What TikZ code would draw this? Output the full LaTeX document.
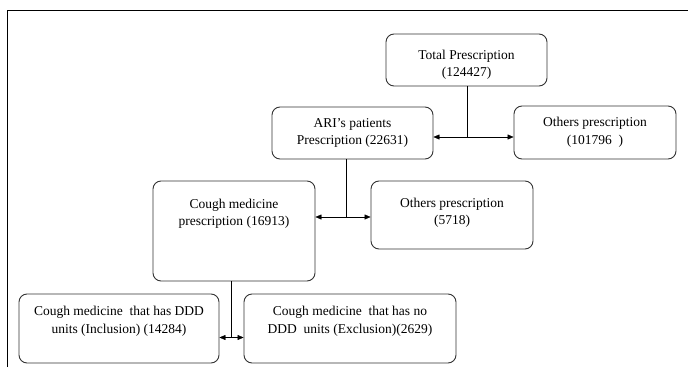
\documentclass[tikz,border=0pt]{standalone}
\usepackage{fontspec}
\setmainfont{Liberation Serif}
\usetikzlibrary{arrows.meta}
\tikzset{
  presc/.style={draw=black!80, line width=0.9pt, rounded corners=8pt, align=center, inner sep=2pt,
    font=\fontsize{13.5}{17.5}\selectfont, text height=27pt, text depth=3.4pt},
  up/.style={text depth=#1},
  dbl/.style={{Triangle[length=6pt,width=5pt]}-{Triangle[length=6pt,width=5pt]}}
}
\begin{document}
\begin{tikzpicture}[x=1pt,y=-1pt]
	\useasboundingbox (0,0) rectangle (688,367);
	\draw (7,367) -- (7,10.5) -- (688,10.5);
	\node[presc, minimum width=161pt, minimum height=52pt, text height=36.6pt, text depth=3pt] (tot) at (466.5,60) {Total Prescription\\(124427)};
	\node[presc, minimum width=161pt, minimum height=52pt] (ari) at (352.5,133) {ARI's patients\\Prescription (22631)};
	\node[presc, minimum width=162pt, minimum height=53pt] (oth1) at (595,132.5) {Others prescription\\(101796~~)};
	\node[presc, up=37.4pt, minimum width=162pt, minimum height=100pt] (cough) at (234,231) {Cough medicine\\prescription (16913)};
	\node[presc, up=7.4pt, minimum width=162pt, minimum height=68pt] (oth2) at (452,215) {Others prescription\\(5718)};
	\node[presc, up=17.4pt, minimum width=200pt, minimum height=69pt] (ddd) at (119,328.5) {Cough medicine~ that has DDD\\units (Inclusion) (14284)};
	\node[presc, up=17.4pt, minimum width=212pt, minimum height=69pt] (noddd) at (350,328.5) {Cough medicine~ that has no\\DDD~ units (Exclusion)(2629)};
	\coordinate (j1) at (467,137);
	\coordinate (j2) at (346,217);
	\coordinate (j3) at (231,337.5);
	\draw (tot.south -| j1) -- (j1);
	\draw[dbl] (ari.east |- j1) -- (oth1.west |- j1);
	\draw (ari.south -| j2) -- (j2);
	\draw[dbl] (cough.east |- j2) -- (oth2.west |- j2);
	\draw (cough.south -| j3) -- (j3);
	\draw[dbl] (ddd.east |- j3) -- (noddd.west |- j3);
\end{tikzpicture}
\end{document}
